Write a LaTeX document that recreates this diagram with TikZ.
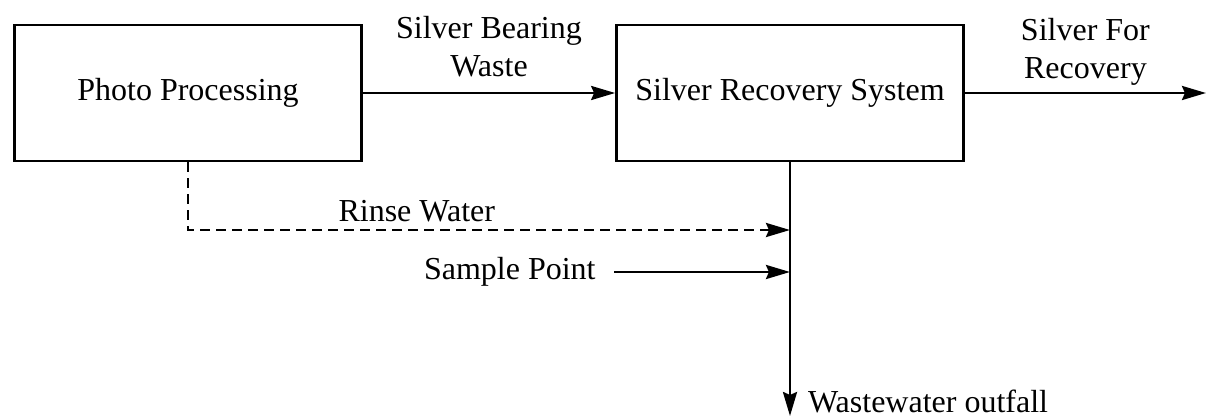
\documentclass[tikz,border=0pt]{standalone}
\usepackage{fontspec}
\setmainfont{Liberation Serif}
\usetikzlibrary{positioning,arrows.meta}

\begin{document}
\begin{tikzpicture}[x=0.5pt,y=-0.5pt,
  unit/.style={shape=rectangle,draw=black,line width=1.35pt,minimum width=173.5pt,minimum height=68pt,font=\fontsize{16}{19}\selectfont},
  lbl/.style={font=\fontsize{16}{19}\selectfont,align=center},
  flow/.style={-{Stealth[length=12pt,width=7pt,inset=1.5pt]},line width=1.35pt}]
\useasboundingbox (0,0) rectangle (1206,417);

\node[unit](P) at (188,93) {Photo Processing};
\node[unit](S) at (790,93) {Silver Recovery System};
\coordinate (out) at (1206,93);
\coordinate (rinse) at (790,230);
\coordinate (sample) at (790,272);
\coordinate (sampleS) at (614,272);
\coordinate (fall) at (790,416);

\path [flow] (P) edge node[lbl,above=4pt] {Silver Bearing\\Waste} (S);
\path [flow] (S) edge node[lbl,above] {Silver For\\Recovery} (out);
\draw[flow,dash pattern=on 5pt off 3pt] (P.south) |- node[lbl,above,pos=0.69] {Rinse Water} (rinse);
\node[lbl,left=0pt of sampleS,inner xsep=9pt](samplelbl) {Sample Point};
\draw[flow] (samplelbl) -- (sample);
\draw[flow] (S.south) -- (fall);
\node[lbl,anchor=base west](falllbl) at (801,412) {Wastewater outfall};
\end{tikzpicture}
\end{document}
